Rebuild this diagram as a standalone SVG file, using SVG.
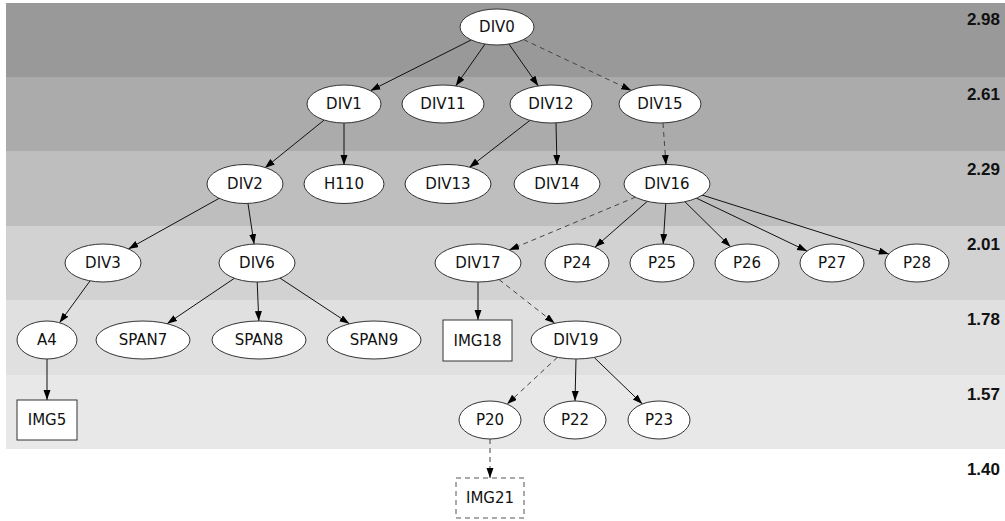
<svg xmlns="http://www.w3.org/2000/svg" width="1005" height="521" viewBox="0 0 1005 521">
<style>
.band{stroke:none}
.lvl{font-family:"Liberation Sans",Arial,sans-serif;font-weight:bold;font-size:17px;fill:#111;text-anchor:end}
.n ellipse,.n rect{fill:#fff;stroke:#333;stroke-width:1}
.n rect.dash{stroke:#555;stroke-dasharray:5,4}
.n text{font-family:"DejaVu Sans",Verdana,sans-serif;font-size:15px;fill:#111;text-anchor:middle}
.e line{stroke:#111;stroke-width:1;fill:none;marker-end:url(#arr)}
.e line.d{stroke:#444;stroke-dasharray:5,4}
</style>
<defs>
<marker id="arr" markerUnits="userSpaceOnUse" markerWidth="11" markerHeight="8" refX="10" refY="3.5" orient="auto">
<path d="M0,0 L10,3.5 L0,7 z" fill="#000" stroke="none"/>
</marker>
</defs>
<g id="bands">
<rect class="band" x="6" y="3" width="999" height="74" fill="#999999"/>
<rect class="band" x="6" y="77" width="999" height="74" fill="#ababab"/>
<rect class="band" x="6" y="151" width="999" height="75" fill="#bebebe"/>
<rect class="band" x="6" y="226" width="999" height="74" fill="#d2d2d2"/>
<rect class="band" x="6" y="300" width="999" height="75" fill="#e0e0e0"/>
<rect class="band" x="6" y="375" width="999" height="74" fill="#e8e8e8"/>
</g>
<g id="levels">
<text class="lvl" x="1000" y="24.5">2.98</text>
<text class="lvl" x="1000" y="99.5">2.61</text>
<text class="lvl" x="1000" y="175">2.29</text>
<text class="lvl" x="1000" y="250">2.01</text>
<text class="lvl" x="1000" y="325">1.78</text>
<text class="lvl" x="1000" y="400">1.57</text>
<text class="lvl" x="1000" y="475">1.40</text>
</g>
<g id="edges" class="e">
<line x1="471.3" y1="39.9" x2="370.4" y2="90.7"/>
<line x1="485.1" y1="44" x2="455.7" y2="85.9"/>
<line x1="508.9" y1="44" x2="538.3" y2="85.9"/>
<line class="d" x1="523.6" y1="39.6" x2="631.3" y2="90.4"/>
<line x1="324.2" y1="120" x2="264.8" y2="168"/>
<line x1="344" y1="123" x2="344" y2="165"/>
<line x1="530" y1="120.3" x2="469.3" y2="167.5"/>
<line x1="556" y1="123" x2="557" y2="165"/>
<line class="d" x1="663" y1="123" x2="666" y2="165"/>
<line x1="219.9" y1="197.9" x2="128.4" y2="248.9"/>
<line x1="247.9" y1="202.9" x2="254.1" y2="244.1"/>
<line class="d" x1="635.8" y1="197" x2="509.2" y2="250"/>
<line x1="647.7" y1="201" x2="594.9" y2="247.3"/>
<line x1="665.8" y1="203" x2="663.2" y2="244"/>
<line x1="684.6" y1="201.4" x2="730.5" y2="246.7"/>
<line x1="696.1" y1="198" x2="807.1" y2="251.1"/>
<line x1="702" y1="195" x2="888.8" y2="254.1"/>
<line x1="90" y1="280.9" x2="59.5" y2="322.8"/>
<line x1="234.4" y1="278.3" x2="167.1" y2="323.7"/>
<line x1="257.2" y1="282" x2="258.8" y2="321"/>
<line x1="280" y1="278.1" x2="349.4" y2="323.8"/>
<line x1="478" y1="282" x2="478" y2="320"/>
<line class="d" x1="499.1" y1="279.6" x2="554.7" y2="323.3"/>
<line x1="47" y1="359" x2="47" y2="400"/>
<line class="d" x1="557.4" y1="357.3" x2="507.1" y2="404.1"/>
<line x1="576" y1="359" x2="575" y2="401"/>
<line x1="594.1" y1="357.4" x2="642.4" y2="404"/>
<line class="d" x1="490" y1="439" x2="490" y2="478"/>
</g>
<g id="DIV0" class="n"><ellipse cx="497" cy="27" rx="37" ry="18"/><text x="497" y="32.4">DIV0</text></g>
<g id="DIV1" class="n"><ellipse cx="344" cy="104" rx="37" ry="19"/><text x="344" y="109.4">DIV1</text></g>
<g id="DIV11" class="n"><ellipse cx="443" cy="104" rx="41" ry="19"/><text x="443" y="109.4">DIV11</text></g>
<g id="DIV12" class="n"><ellipse cx="551" cy="104" rx="41" ry="19"/><text x="551" y="109.4">DIV12</text></g>
<g id="DIV15" class="n"><ellipse cx="660" cy="104" rx="41" ry="19"/><text x="660" y="109.4">DIV15</text></g>
<g id="DIV2" class="n"><ellipse cx="245" cy="184" rx="38" ry="19.5"/><text x="245" y="189.4">DIV2</text></g>
<g id="H110" class="n"><ellipse cx="344" cy="184" rx="40" ry="19.5"/><text x="344" y="189.4">H110</text></g>
<g id="DIV13" class="n"><ellipse cx="448" cy="184" rx="43" ry="19.5"/><text x="448" y="189.4">DIV13</text></g>
<g id="DIV14" class="n"><ellipse cx="557" cy="184" rx="43" ry="19.5"/><text x="557" y="189.4">DIV14</text></g>
<g id="DIV16" class="n"><ellipse cx="667" cy="184" rx="43" ry="19.5"/><text x="667" y="189.4">DIV16</text></g>
<g id="DIV3" class="n"><ellipse cx="103" cy="263" rx="38" ry="19"/><text x="103" y="268.4">DIV3</text></g>
<g id="DIV6" class="n"><ellipse cx="257" cy="263" rx="38" ry="19"/><text x="257" y="268.4">DIV6</text></g>
<g id="DIV17" class="n"><ellipse cx="478" cy="263" rx="43" ry="19"/><text x="478" y="268.4">DIV17</text></g>
<g id="P24" class="n"><ellipse cx="577" cy="263" rx="32" ry="19"/><text x="577" y="268.4">P24</text></g>
<g id="P25" class="n"><ellipse cx="662" cy="263" rx="32" ry="19"/><text x="662" y="268.4">P25</text></g>
<g id="P26" class="n"><ellipse cx="747" cy="263" rx="32" ry="19"/><text x="747" y="268.4">P26</text></g>
<g id="P27" class="n"><ellipse cx="832" cy="263" rx="32" ry="19"/><text x="832" y="268.4">P27</text></g>
<g id="P28" class="n"><ellipse cx="917" cy="263" rx="32" ry="19"/><text x="917" y="268.4">P28</text></g>
<g id="A4" class="n"><ellipse cx="47" cy="340" rx="30" ry="19"/><text x="47" y="345.4">A4</text></g>
<g id="SPAN7" class="n"><ellipse cx="143" cy="340" rx="47" ry="19"/><text x="143" y="345.4">SPAN7</text></g>
<g id="SPAN8" class="n"><ellipse cx="259" cy="340" rx="47" ry="19"/><text x="259" y="345.4">SPAN8</text></g>
<g id="SPAN9" class="n"><ellipse cx="374" cy="340" rx="47" ry="19"/><text x="374" y="345.4">SPAN9</text></g>
<g id="IMG18" class="n"><rect x="443" y="320" width="69" height="41"/><text x="477.5" y="345.9">IMG18</text></g>
<g id="DIV19" class="n"><ellipse cx="576" cy="340" rx="45" ry="19"/><text x="576" y="345.4">DIV19</text></g>
<g id="IMG5" class="n"><rect x="17" y="400" width="60" height="40"/><text x="47" y="425.4">IMG5</text></g>
<g id="P20" class="n"><ellipse cx="490" cy="420" rx="31" ry="19"/><text x="490" y="425.4">P20</text></g>
<g id="P22" class="n"><ellipse cx="575" cy="420" rx="31" ry="19"/><text x="575" y="425.4">P22</text></g>
<g id="P23" class="n"><ellipse cx="659" cy="420" rx="31" ry="19"/><text x="659" y="425.4">P23</text></g>
<g id="IMG21" class="n"><rect class="dash" x="456" y="478" width="68" height="40"/><text x="490" y="503.4">IMG21</text></g>
</svg>
